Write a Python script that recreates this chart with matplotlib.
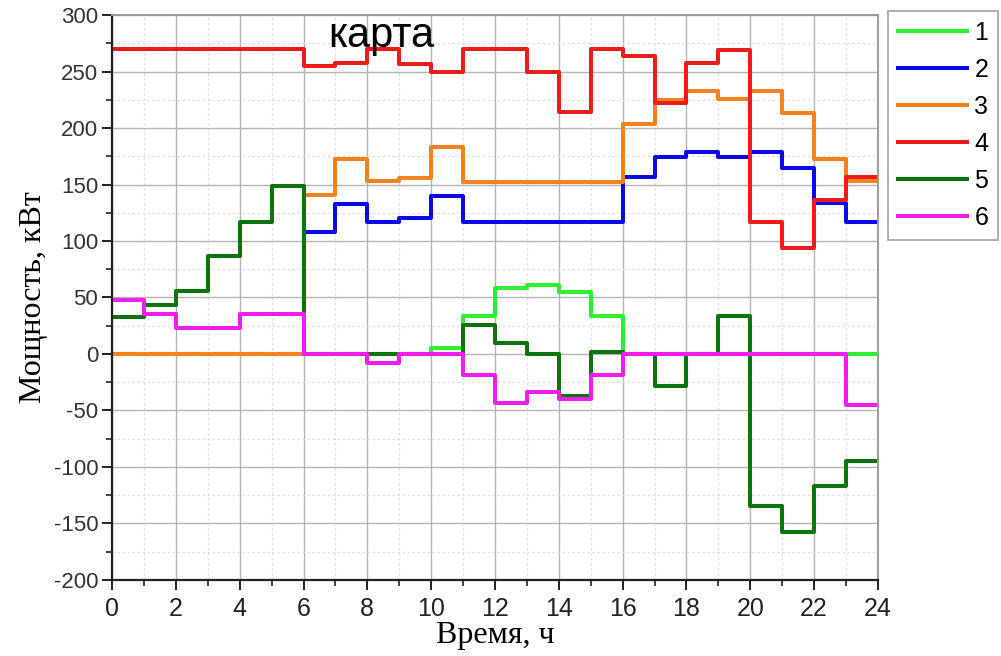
import matplotlib
matplotlib.use("Agg")
import matplotlib.pyplot as plt
from matplotlib.ticker import MultipleLocator

plt.rcParams["axes.unicode_minus"] = False

# hourly power values, kW (step plot, value holds for the hour)
hours = list(range(25))
p1 = [0, 0, 0, 0, 0, 0, 0, 0, 0, 0, 5, 34, 58, 61, 55, 34, 0, 0, 0, 0, 0, 0, 0, 0]
p2 = [0, 0, 0, 0, 0, 0, 108, 133, 117, 120, 140, 117, 117, 117, 117, 117,
      157, 174, 179, 174, 179, 165, 134, 117]
p3 = [0, 0, 0, 0, 0, 0, 141, 173, 153, 156, 183, 152, 152, 152, 152, 152,
      204, 225, 233, 226, 233, 213, 173, 153]
p4 = [270, 270, 270, 270, 270, 270, 255, 258, 270, 257, 250, 270, 270, 250, 214, 270,
      264, 222, 258, 269, 117, 94, 136, 157]
p5 = [33, 43, 56, 87, 117, 149, 0, 0, 0, 0, 0, 26, 10, 0, -37, 2,
      0, -28, 0, 34, -135, -158, -117, -95]
p6 = [48, 35, 23, 23, 35, 35, 0, 0, -8, 0, 0, -19, -43, -34, -40, -19,
      0, 0, 0, 0, 0, 0, 0, -45]

series = [p1, p2, p3, p4, p5, p6]
labels = ["1", "2", "3", "4", "5", "6"]
colors = ["#2ef02e", "#0a0ae6", "#f5821f", "#ec1c1c", "#0d740d", "#f01cf0"]

fig = plt.figure(figsize=(10.01, 6.56), dpi=100)
ax = fig.add_axes([0.112, 0.116, 0.765, 0.861])

for vals, lab, col in zip(series, labels, colors):
    ax.step(hours, vals + [vals[-1]], where="post", color=col, lw=2.9, label=lab)

ax.set_xlim(0, 24)
ax.set_ylim(-200, 300)
ax.xaxis.set_major_locator(MultipleLocator(2))
ax.xaxis.set_minor_locator(MultipleLocator(1))
ax.yaxis.set_major_locator(MultipleLocator(50))
ax.yaxis.set_minor_locator(MultipleLocator(25))

ax.grid(which="major", color="#b4b4b4", lw=1.0, ls="-")
ax.grid(which="minor", color="#dedede", lw=0.9, ls=(0, (2, 2)))
ax.set_axisbelow(True)

for s in ["left", "bottom"]:
    ax.spines[s].set_color("#222222")
    ax.spines[s].set_linewidth(1.6)
for s in ["top", "right"]:
    ax.spines[s].set_color("#9a9a9a")
    ax.spines[s].set_linewidth(1.4)

ax.tick_params(which="major", direction="out", length=7, width=1.4, color="#222222")
ax.tick_params(which="minor", direction="out", length=4, width=1.2, color="#222222")
ax.tick_params(axis="y", pad=3)
ax.tick_params(axis="x", pad=5)

for t in ax.get_yticklabels():
    t.set_family(["Liberation Sans", "DejaVu Sans"])
    t.set_fontsize(16)
    t.set_color("#333333")
for t in ax.get_xticklabels():
    t.set_family(["Liberation Sans", "DejaVu Sans"])
    t.set_fontsize(18)
    t.set_color("#222222")

ax.set_xlabel("Время, ч", family=["Liberation Serif", "DejaVu Serif"], fontsize=23,
              labelpad=0)
ax.set_ylabel("Мощность, кВт", family=["Liberation Serif", "DejaVu Serif"], fontsize=23,
              labelpad=4)

fig.text(0.381, 1 - 47 / 656, "карта", ha="center", va="baseline",
         family=["Liberation Sans", "DejaVu Sans"], fontsize=30)

leg = ax.legend(loc="upper left", bbox_to_anchor=(888 / 1001, 1 - 11 / 656),
                bbox_transform=fig.transFigure, frameon=True, fancybox=False,
                prop={"family": ["Liberation Sans", "DejaVu Sans"], "size": 18},
                handlelength=2.75, handletextpad=0.3, labelspacing=0.52,
                borderpad=0.4, borderaxespad=0)
leg.get_frame().set_edgecolor("#9a9a9a")
leg.get_frame().set_linewidth(1.4)

fig.savefig("out.png", dpi=100)
